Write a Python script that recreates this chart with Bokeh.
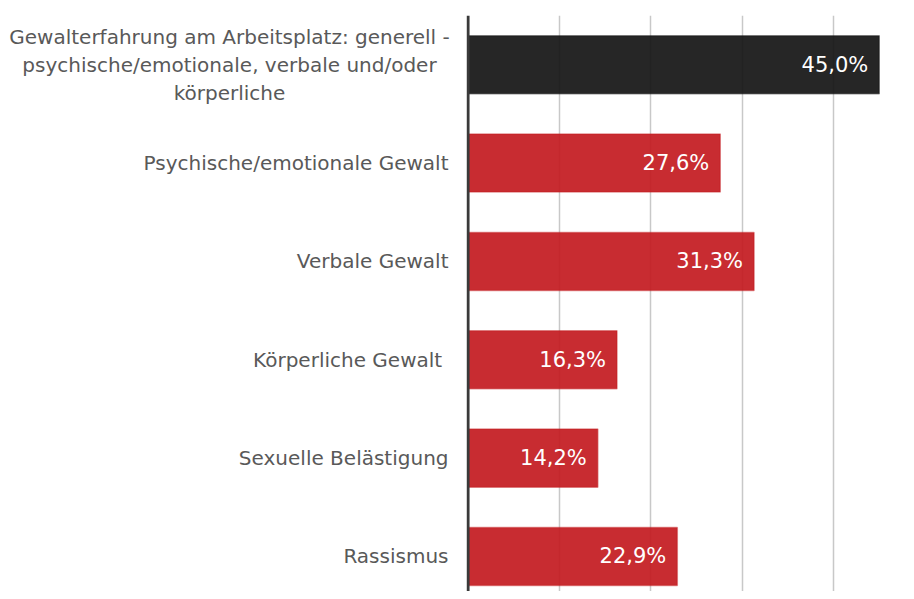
from bokeh.plotting import figure
from bokeh.layouts import row
from bokeh.models import Range1d, FixedTicker, ColumnDataSource, LabelSet, Span
from bokeh.core.properties import value
from bokeh.embed import file_html
from bokeh.resources import INLINE

categories = [
    "Gewalterfahrung am Arbeitsplatz: generell -\npsychische/emotionale, verbale und/oder\nkörperliche",
    "Psychische/emotionale Gewalt",
    "Verbale Gewalt",
    "Körperliche Gewalt ",
    "Sexuelle Belästigung",
    "Rassismus",
]
values = [45.0, 27.6, 31.3, 16.3, 14.2, 22.9]
value_labels = ["45,0%", "27,6%", "31,3%", "16,3%", "14,2%", "22,9%"]
colors = ["#131313", "#C31A1F", "#C31A1F", "#C31A1F", "#C31A1F", "#C31A1F"]
grid_ticks = [10, 20, 30, 40, 50]

FONT = "DejaVu Sans"
LABEL_W = 466
ypos = list(range(len(categories)))
y_range = Range1d(5.356, -0.5)

# ---- category labels panel (left) ----
lab = figure(width=LABEL_W, height=591, output_backend="svg", toolbar_location=None,
             x_range=Range1d(0, LABEL_W), y_range=y_range,
             min_border_left=0, min_border_right=0, min_border_top=15, min_border_bottom=0)
lab.axis.visible = False
lab.grid.visible = False
lab.outline_line_color = None
right_edge = LABEL_W - 18
first_src = ColumnDataSource(dict(y=ypos[:1], t=categories[:1], x=[right_edge / 2 + 5]))
rest_src = ColumnDataSource(dict(y=ypos[1:], t=categories[1:], x=[right_edge] * (len(ypos) - 1)))
common = dict(text_font=value(FONT), text_font_size="20px", text_color="#595959",
              text_baseline="middle", text_line_height=1.16)
lab.text(x="x", y="y", text="t", source=first_src, text_align="center", **common)
lab.text(x="x", y="y", text="t", source=rest_src, text_align="right", **common)

# ---- bars panel (right) ----
src = ColumnDataSource(dict(y=ypos, v=values, lab=value_labels, c=colors))
p = figure(width=906 - LABEL_W, height=591, output_backend="svg", toolbar_location=None,
           x_range=Range1d(-0.17, 47.98), y_range=y_range,
           min_border_left=0, min_border_right=0, min_border_top=15, min_border_bottom=0)
p.outline_line_color = None
p.background_fill_color = "white"

p.hbar(y="y", right="v", left=0, height=0.59, fill_color="c", fill_alpha=0.92,
       line_color="c", line_alpha=0.45, line_width=1.5, source=src)

labels = LabelSet(x="v", y="y", text="lab", source=src, x_offset=-11,
                  text_align="right", text_baseline="middle", text_color="white",
                  text_font=value(FONT), text_font_size="21px")
p.add_layout(labels)

p.xaxis.visible = False
p.yaxis.visible = False
p.xgrid.ticker = FixedTicker(ticks=grid_ticks)
p.xgrid.grid_line_color = "#c8c8c8"
p.xgrid.grid_line_width = 1.5
p.ygrid.grid_line_color = None
p.add_layout(Span(location=0, dimension="height", line_color="#3a3a3a", line_width=3))

layout = row(lab, p, spacing=0)
open("out.html", "w").write(file_html(layout, INLINE))
